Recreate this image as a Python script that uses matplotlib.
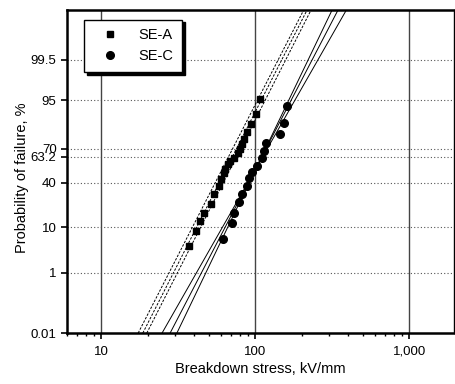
import numpy as np
import matplotlib
matplotlib.use('Agg')
import matplotlib.pyplot as plt
from matplotlib.ticker import FixedLocator, FixedFormatter, LogLocator, NullFormatter
from statistics import NormalDist

plt.rcParams['font.family'] = ['Liberation Sans', 'DejaVu Sans']

# SE-A (squares): breakdown stress kV/mm and probability of failure %
sea_x = [37.0, 41.5, 43.6, 46.2, 51.6, 53.7, 57.8, 59.9, 62.3, 63.9, 66.1,
         68.9, 72.3, 76.8, 79.1, 82.0, 84.9, 88.4, 93.8, 101.5, 107.8]
sea_p = [4.4, 8.6, 12.8, 17.2, 22.6, 30.1, 37.1, 43.1, 48.4, 52.2, 56.8,
         59.7, 62.6, 66.9, 70.0, 73.8, 77.4, 81.6, 86.4, 90.8, 95.2]
# SE-C (circles)
sec_x = [61.8, 70.6, 72.3, 78.0, 82.0, 88.4, 90.5, 95.2, 102.6, 110.5,
         113.2, 117.9, 145.2, 152.6, 160.5]
sec_p = [6.0, 12.0, 17.2, 23.8, 30.1, 37.1, 44.0, 49.1, 55.2, 62.6,
         68.3, 74.1, 80.6, 86.8, 93.5]

# fitted lines (median stress, log10 spread): fit + two confidence limits
sea_fit_x50 = [63.6, 59.9, 67.5]
sea_fit_sig = [0.1433, 0.1444, 0.1433]
sec_fit_x50 = [98.3, 98.5, 98.9]
sec_fit_sig = [0.1465, 0.1608, 0.1354]

yticks = [0.01, 1, 10, 40, 63.2, 70, 95, 99.5]
ylabels = ['0.01', '1', '10', '40', '63.2', '70', '95', '99.5']
xticks = [10, 100, 1000]
xlabels = ['10', '100', '1,000']

nd = NormalDist()
_ppf = np.vectorize(lambda v: nd.inv_cdf(v / 100.0), otypes=[float])
_cdf = np.vectorize(lambda v: nd.cdf(v) * 100.0, otypes=[float])


def prob_fwd(p):
    p = np.clip(np.nan_to_num(np.asarray(p, dtype=float), nan=50.0),
                1e-7, 100 - 1e-7)
    return _ppf(p)


def prob_inv(z):
    z = np.clip(np.nan_to_num(np.asarray(z, dtype=float)), -8, 8)
    return _cdf(z)


fig = plt.figure(figsize=(4.56, 3.84), dpi=100)
ax = fig.add_axes([0.1469, 0.1328, 0.8487, 0.8411])
ax.set_xscale('log')
ax.set_yscale('function', functions=(prob_fwd, prob_inv))
ax.set_xlim(6, 1950)
ax.set_ylim(0.01, 99.99)

# grid
for yt in yticks[1:]:
    ax.axhline(yt, color='#555555', lw=0.8, ls=(0, (1, 2)), zorder=1)
for xt in xticks:
    ax.axvline(xt, color='#444444', lw=1.0, zorder=1)

# fit lines
zz = np.linspace(-3.8, 3.8, 50)
pp = prob_inv(zz)
for x50, sg in zip(sea_fit_x50, sea_fit_sig):
    ax.plot(10 ** (np.log10(x50) + sg * zz), pp, color='black', lw=0.7,
            ls=(0, (2.5, 1.5)), zorder=2)
for x50, sg in zip(sec_fit_x50, sec_fit_sig):
    ax.plot(10 ** (np.log10(x50) + sg * zz), pp, color='black', lw=0.7,
            zorder=2)

ax.plot(sea_x, sea_p, 's', color='black', ms=4.5, ls='none', zorder=3,
        label='SE-A')
ax.plot(sec_x, sec_p, 'o', color='black', ms=5.5, ls='none', zorder=3,
        label='SE-C')

ax.yaxis.set_major_locator(FixedLocator(yticks))
ax.yaxis.set_major_formatter(FixedFormatter(ylabels))
ax.yaxis.set_minor_locator(FixedLocator([]))
ax.xaxis.set_major_locator(FixedLocator(xticks))
ax.xaxis.set_major_formatter(FixedFormatter(xlabels))
ax.xaxis.set_minor_locator(LogLocator(base=10, subs=np.arange(2, 10)))
ax.xaxis.set_minor_formatter(NullFormatter())

ax.tick_params(axis='both', which='major', direction='out', length=4,
               width=1.2, labelsize=9.5, colors='black')
ax.tick_params(axis='x', which='minor', direction='out', length=2.5, width=1)
ax.tick_params(axis='x', which='major', pad=5)

for side in ['left', 'bottom', 'top']:
    ax.spines[side].set_linewidth(1.8)
ax.spines['right'].set_linewidth(1.0)

ax.set_xlabel('Breakdown stress, kV/mm', fontsize=10.5, labelpad=3)
ax.set_ylabel('Probability of failure, %', fontsize=10.5)
ax.yaxis.set_label_coords(-0.097, 0.48)

leg = ax.legend(loc='upper left', bbox_to_anchor=(0.045, 0.97), fancybox=False,
                shadow={'color': 'black', 'alpha': 1.0}, edgecolor='black',
                framealpha=1, fontsize=10.5, handletextpad=0.8,
                borderpad=0.6, labelspacing=0.45, handlelength=2.3,
                borderaxespad=0.0)
leg.get_frame().set_linewidth(1.0)

fig.savefig('out.png', dpi=100)
